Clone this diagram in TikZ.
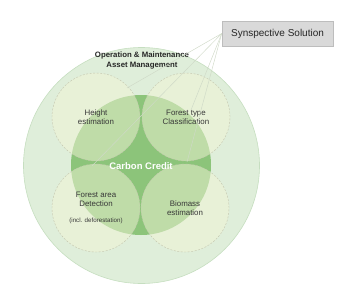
\documentclass[tikz,border=0pt]{standalone}
\usepackage{fontspec}
\setmainfont{Liberation Sans}
\definecolor{outerfill}{HTML}{DFEEDA}
\definecolor{outerline}{HTML}{C6DEC0}
\definecolor{creditfill}{HTML}{8CC47A}
\definecolor{subfill}{HTML}{F2F4D6}
\definecolor{subline}{HTML}{C4C6AE}
\definecolor{boxfill}{HTML}{D9D9D9}
\definecolor{boxline}{HTML}{BDBDBD}
\definecolor{hintline}{HTML}{CFD9C7}
\definecolor{labeltext}{HTML}{383838}
\newcommand{\lblsize}{\fontsize{7.9}{9}\selectfont}

\begin{document}
\begin{tikzpicture}[x=1pt,y=-1pt,
  subcircle/.style={circle, minimum size=88pt, inner sep=0pt, fill=subfill,
    fill opacity=0.5, text opacity=1, draw=subline, draw opacity=1,
    dash pattern=on 2pt off 1.5pt, line width=0.4pt, align=center,
    text=labeltext, font=\lblsize},
  hint/.style={draw=hintline, line width=0.45pt}]
    \useasboundingbox (0,0) rectangle (347,289);
    \node[circle, minimum size=236pt, fill=outerfill, draw=outerline,
    line width=0.6pt] (outer) at (141.5,165.5) {}; \node[circle,
    minimum size=140pt, fill=creditfill] (credit) at (141,165) {};
    \node[subcircle] (height) at (96,117) {Height\\estimation};
    \node[subcircle] (ftype) at (186,117) {Forest type\\Classification};
    \node[subcircle] (farea) at (96,208) {Forest area\\Detection\\[7pt]
    {\fontsize{6.2}{7}\selectfont(incl. deforestation)}};
    \node[subcircle] (biomass) at (185,208) {Biomass\\estimation};
    \node[text=white, font=\fontsize{9.5}{11}\selectfont\bfseries]
    (cc) at (141,166) {Carbon Credit}; \node[align=center,
    text=black!85, font=\fontsize{7.8}{10}\selectfont\bfseries] (om)
    at (142,60) {Operation \& Maintenance\\Asset Management};
    \node[minimum width=111pt, minimum height=25pt, inner sep=0pt,
    fill=boxfill, draw=boxline, line width=0.6pt, text=black!85,
    font=\fontsize{10}{12}\selectfont] (synsol) at (277.5,33.5)
    {Synspective Solution};
    \coordinate (hE) at (127,88); \coordinate (fT) at (191,110);
    \coordinate (fA) at (92,166); \coordinate (bM) at (187,162);
    \draw[hint] (synsol.west) -- (hE); \draw[hint] (synsol.west) --
    (fT); \draw[hint] (synsol.west) -- (fA); \draw[hint]
    (synsol.west) -- (bM);
  \end{tikzpicture}
\end{document}
